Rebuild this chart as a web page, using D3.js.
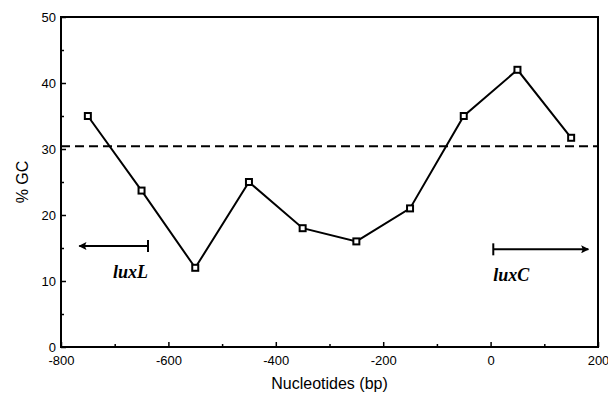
<!DOCTYPE html>
<html>
  <head>
    <meta charset="UTF-8">
    <title>% GC</title>
    <style>
      * { margin: 0; padding: 0; overflow: hidden; }
      body { background: #fff; }
      text { font-family: "Liberation Sans", Arial, sans-serif; fill: #000; }
    </style>
    <script src="https://d3js.org/d3.v7.min.js"></script>
  </head>
  <body>
    <script type="text/javascript">
      // data
      const positions = [-750, -650, -550, -450, -350, -250, -150, -50, 50, 150];
      const gcValues = [35, 23.7, 12, 25, 18, 16, 21, 35, 42, 31.7];
      const averageGC = 30.4;
      const xTicks = [-800, -600, -400, -200, 0, 200];
      const xMinorTicks = [-700, -500, -300, -100, 100];
      const yTicks = [0, 10, 20, 30, 40, 50];
      const yMinorTicks = [5, 15, 25, 35, 45];
      // genes: arrow from bar to tip, label
      const genes = [
        { name: "luxL", bar: -638, tip: -766, level: 15.3 },
        { name: "luxC", bar: 5, tip: 182, level: 14.8 }
      ];

      const WIDTH = 608;
      const HEIGHT = 395;
      const margin = { top: 17, right: 10, bottom: 48, left: 61 };

      const svg = d3.select("body")
        .append("svg")
        .attr("width", WIDTH)
        .attr("height", HEIGHT);

      const x = d3.scaleLinear().domain([-800, 200]).range([margin.left, WIDTH - margin.right]);
      const y = d3.scaleLinear().domain([0, 50]).range([HEIGHT - margin.bottom, margin.top]);

      svg.append("defs").append("marker")
        .attr("id", "head")
        .attr("viewBox", "0 0 10 10")
        .attr("refX", 9).attr("refY", 5)
        .attr("markerWidth", 12).attr("markerHeight", 8)
        .attr("markerUnits", "userSpaceOnUse")
        .attr("orient", "auto")
        .append("path")
        .attr("d", "M0,0 L10,5 L0,10 L2,5 Z")
        .attr("fill", "#000");

      // axes (ticks pointing inward)
      const xAxis = svg.append("g")
        .attr("transform", `translate(0,${y(0)})`)
        .call(d3.axisBottom(x).tickValues(xTicks).tickSize(-5).tickPadding(9).tickFormat(d3.format("d")));
      svg.append("g")
        .attr("transform", `translate(0,${y(0)})`)
        .call(d3.axisBottom(x).tickValues(xMinorTicks).tickSize(-3).tickFormat(""));
      svg.append("g")
        .attr("transform", `translate(${x(-800)},0)`)
        .call(d3.axisLeft(y).tickValues(yTicks).tickSize(-5).tickPadding(5));
      svg.append("g")
        .attr("transform", `translate(${x(-800)},0)`)
        .call(d3.axisLeft(y).tickValues(yMinorTicks).tickSize(-3).tickFormat(""));

      svg.selectAll(".domain").remove();
      svg.selectAll(".tick line").attr("stroke", "#000").attr("stroke-width", 1.5);
      svg.selectAll(".tick text")
        .attr("fill", "#000")
        .attr("font-size", 13)
        .style("font-family", "'Liberation Sans', Arial, sans-serif");
      xAxis.selectAll(".tick text").text((d) => String(d));

      // frame
      svg.append("rect")
        .attr("x", x(-800))
        .attr("y", y(50))
        .attr("width", x(200) - x(-800))
        .attr("height", y(0) - y(50))
        .attr("fill", "none")
        .attr("stroke", "#000")
        .attr("stroke-width", 2);

      // average line
      svg.append("line")
        .attr("x1", x(-800)).attr("x2", x(200))
        .attr("y1", y(averageGC)).attr("y2", y(averageGC))
        .attr("stroke", "#000")
        .attr("stroke-width", 2)
        .attr("stroke-dasharray", "9,5");

      // series
      const pts = positions.map((p, i) => [p, gcValues[i]]);
      svg.append("path")
        .datum(pts)
        .attr("fill", "none")
        .attr("stroke", "#000")
        .attr("stroke-width", 2)
        .attr("d", d3.line().x((d) => x(d[0])).y((d) => y(d[1])));

      svg.selectAll(".pt")
        .data(pts)
        .enter()
        .append("rect")
        .attr("class", "pt")
        .attr("x", (d) => x(d[0]) - 3)
        .attr("y", (d) => y(d[1]) - 3)
        .attr("width", 6)
        .attr("height", 6)
        .attr("fill", "#fff")
        .attr("stroke", "#000")
        .attr("stroke-width", 2);

      // gene arrows
      const g = svg.selectAll(".gene")
        .data(genes)
        .enter()
        .append("g")
        .attr("class", "gene");

      g.append("line")
        .attr("x1", (d) => x(d.bar)).attr("x2", (d) => x(d.tip))
        .attr("y1", (d) => y(d.level)).attr("y2", (d) => y(d.level))
        .attr("stroke", "#000")
        .attr("stroke-width", 2)
        .attr("marker-end", "url(#head)");
      g.append("line")
        .attr("x1", (d) => x(d.bar)).attr("x2", (d) => x(d.bar))
        .attr("y1", (d) => y(d.level) - 6).attr("y2", (d) => y(d.level) + 6)
        .attr("stroke", "#000")
        .attr("stroke-width", 2);
      g.append("text")
        .attr("x", (d) => x(d.bar))
        .attr("y", (d) => y(d.level) + 32)
        .attr("text-anchor", (d) => d.tip < d.bar ? "end" : "start")
        .attr("font-size", 18)
        .style("font-family", "'Liberation Serif', 'Times New Roman', serif")
        .style("font-style", "italic")
        .style("font-weight", "bold")
        .text((d) => d.name);

      // axis titles
      svg.append("text")
        .attr("x", (x(-800) + x(200)) / 2)
        .attr("y", 389)
        .attr("text-anchor", "middle")
        .attr("font-size", 16)
        .text("Nucleotides (bp)");
      svg.append("text")
        .attr("transform", `translate(28,${(y(0) + y(50)) / 2}) rotate(-90)`)
        .attr("text-anchor", "middle")
        .attr("font-size", 16)
        .text("% GC");
    </script>
  </body>
</html>
